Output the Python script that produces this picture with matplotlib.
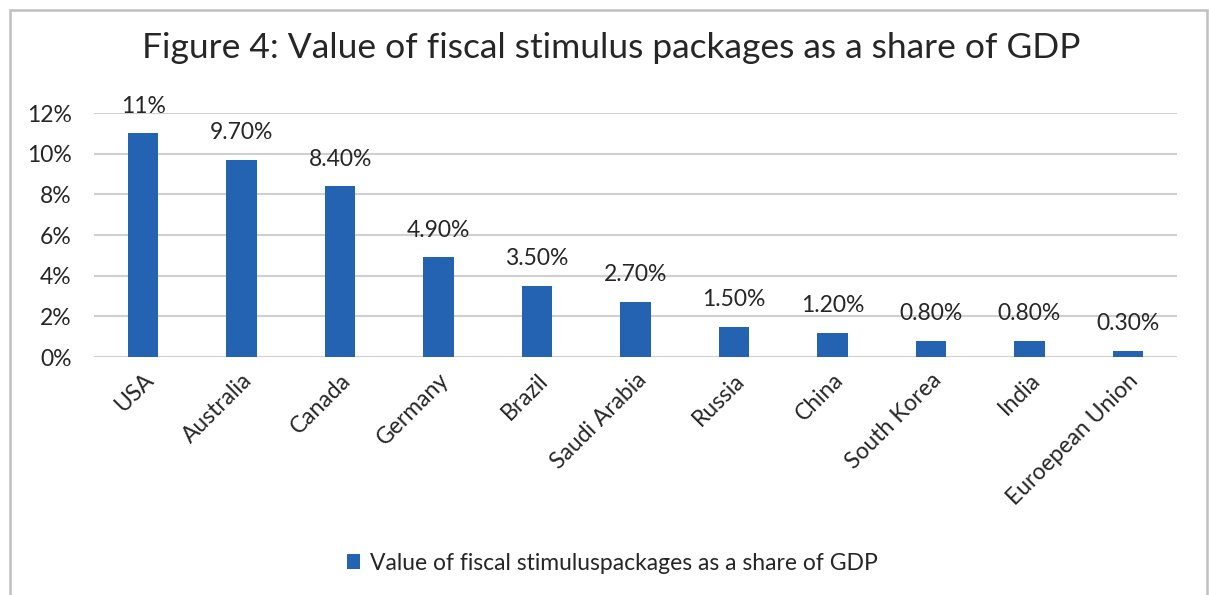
import matplotlib
matplotlib.use('Agg')
import matplotlib.pyplot as plt
from matplotlib.patches import Rectangle
from matplotlib.ticker import FuncFormatter

# data
countries = ['USA', 'Australia', 'Canada', 'Germany', 'Brazil', 'Saudi Arabia',
             'Russia', 'China', 'South Korea', 'India', 'Euroepean Union']
share = [0.11, 0.097, 0.084, 0.049, 0.035, 0.027, 0.015, 0.012, 0.008, 0.008, 0.003]
labels = ['11%', '9.70%', '8.40%', '4.90%', '3.50%', '2.70%', '1.50%', '1.20%',
          '0.80%', '0.80%', '0.30%']

plt.rcParams['font.family'] = ['Lato', 'DejaVu Sans']

fig = plt.figure(figsize=(12.09, 5.95), dpi=100)
ax = fig.add_axes([94/1209, 1 - 357/595, (1177 - 94)/1209, (357 - 113)/595])

bar_col = '#2462b2'
x = range(len(countries))
ax.bar(x, share, width=0.31, color=bar_col, zorder=3,
       label='Value of fiscal stimuluspackages as a share of GDP')

for i, (v, lab) in enumerate(zip(share, labels)):
    ax.annotate(lab, (i, v), xytext=(0, 12), textcoords='offset points',
                ha='center', va='bottom', fontsize=16.5, color='#262626')

ax.set_xlim(-0.5, len(countries) - 0.5)
ax.set_ylim(0, 0.12)
ax.set_yticks([0, 0.02, 0.04, 0.06, 0.08, 0.10, 0.12])
ax.yaxis.set_major_formatter(FuncFormatter(lambda v, p: f'{v*100:.0f}%'))
ax.set_xticks(list(x))
ax.set_xticklabels(countries, rotation=45, ha='right', rotation_mode='anchor')
ax.tick_params(axis='both', length=0, labelsize=16.5, colors='#262626')
ax.tick_params(axis='x', pad=9)
ax.tick_params(axis='y', pad=16)
ax.grid(axis='y', color='#d0d0d0', linewidth=1.5, zorder=0)
for s in ax.spines.values():
    s.set_visible(False)

fig.text(611/1209, 1 - 48/595, 'Figure 4: Value of fiscal stimulus packages as a share of GDP',
         ha='center', va='center', fontsize=25.5, color='#262626')

fig.legend(loc='center', bbox_to_anchor=(612/1209, 1 - 563/595), frameon=False,
           fontsize=16.5, handlelength=0.6, handleheight=0.6, handletextpad=0.4,
           labelcolor='#262626')

fig.add_artist(Rectangle((10/1209, -0.05), (1207 - 10)/1209, 1.05 - 10/595,
                         transform=fig.transFigure, fill=False,
                         edgecolor='#c0c0c0', linewidth=1.8))

fig.savefig('out.png', dpi=100)
